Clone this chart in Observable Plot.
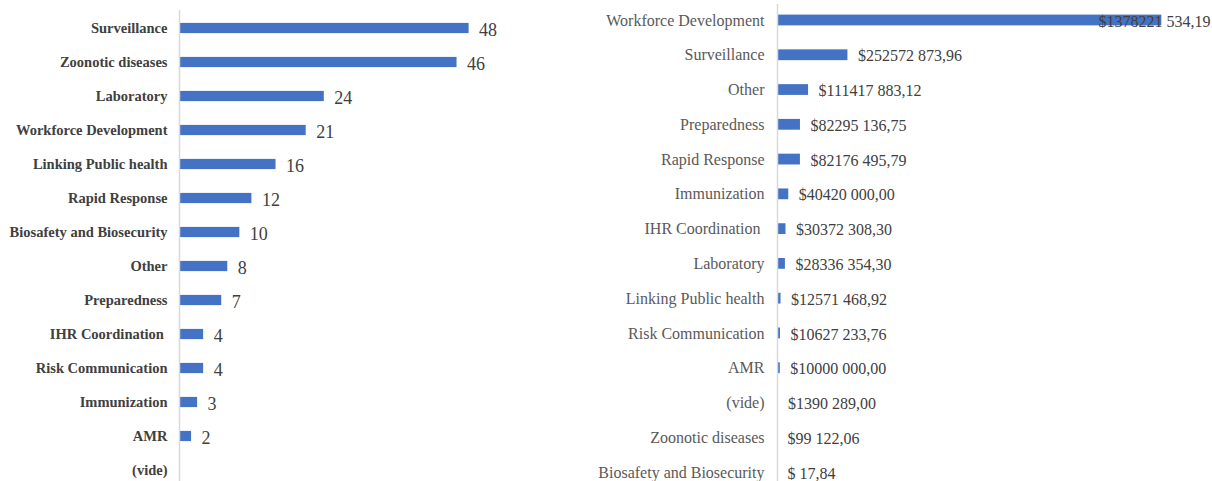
<!DOCTYPE html>
<html>
<head>
<meta charset="utf-8">
<script src="https://cdn.jsdelivr.net/npm/d3@7"></script>
<script src="https://cdn.jsdelivr.net/npm/@observablehq/plot@0.6"></script>
<style>
  html, body { margin: 0; padding: 0; background: #fff; }
  #wrap { display: flex; flex-direction: row; width: 1212px; height: 481px; }
  svg { display: block; }
</style>
</head>
<body>
<div id="wrap"></div>
<script>
// Left panel: number of projects per category
const leftCategories = ["Surveillance", "Zoonotic diseases", "Laboratory", "Workforce Development",
  "Linking Public health", "Rapid Response", "Biosafety and Biosecurity", "Other", "Preparedness",
  "IHR Coordination\u00a0", "Risk Communication", "Immunization", "AMR", "(vide)"];
const leftCounts = [48, 46, 24, 21, 16, 12, 10, 8, 7, 4, 4, 3, 2, null];

// Right panel: funding amount per category
const rightCategories = ["Workforce Development", "Surveillance", "Other", "Preparedness", "Rapid Response",
  "Immunization", "IHR Coordination\u00a0", "Laboratory", "Linking Public health", "Risk Communication",
  "AMR", "(vide)", "Zoonotic diseases", "Biosafety and Biosecurity"];
const rightAmounts = [1378221534.19, 252572873.96, 111417883.12, 82295136.75, 82176495.79,
  40420000.00, 30372308.30, 28336354.30, 12571468.92, 10627233.76,
  10000000.00, 1390289.00, 99122.06, 17.84];

function fmtMoney(v) {
  const cents = Math.round(v * 100);
  const intPart = Math.floor(cents / 100);
  const dec = String(cents % 100).padStart(2, "0");
  const high = Math.floor(intPart / 1000);
  const low = intPart % 1000;
  const lowStr = high > 0 ? String(low).padStart(3, "0") : String(low);
  return "$" + (high > 0 ? high : "") + " " + lowStr + "," + dec;
}

const leftData = leftCategories.map((c, i) => ({cat: c, n: leftCounts[i]}));
const rightData = rightCategories.map((c, i) => ({cat: c, amount: rightAmounts[i], label: fmtMoney(rightAmounts[i])}));

const serif = "'Liberation Serif', 'Times New Roman', serif";
const barColor = "#4472C4";

const left = Plot.plot({
  width: 580,
  height: 481,
  marginLeft: 179,
  marginRight: 39,
  marginTop: 10,
  marginBottom: 0,
  style: {fontFamily: serif, background: "#fff"},
  x: {domain: [0, 60], axis: null},
  y: {domain: leftCategories, range: [11, 487], paddingInner: 0.7, paddingOuter: 0.35, align: 0.5, round: false},
  marks: [
    Plot.barX(leftData.filter(d => d.n != null), {x: "n", y: "cat", fill: barColor}),
    Plot.ruleX([0], {stroke: "#d9d9d9", strokeWidth: 1.5}),
    Plot.axisY({tickSize: 0, tickPadding: 12, fontSize: 14.5, fontWeight: "bold", fill: "#404040", label: null}),
    Plot.text(leftData.filter(d => d.n != null), {x: "n", y: "cat", text: d => String(d.n), dx: 10,
      textAnchor: "start", fontSize: 18, fill: "#404040", dy: 2})
  ]
});

const right = Plot.plot({
  width: 632,
  height: 481,
  marginLeft: 197,
  marginRight: 0,
  marginTop: 4,
  marginBottom: 0,
  style: {fontFamily: serif, background: "#fff"},
  x: {domain: [0, 1560e6], axis: null},
  y: {domain: rightCategories, range: [2.6, 489.4], paddingInner: 0.69, paddingOuter: 0.345, align: 0.5, round: false},
  marks: [
    Plot.barX(rightData, {x: "amount", y: "cat", fill: barColor}),
    Plot.ruleX([0], {stroke: "#d9d9d9", strokeWidth: 1.5}),
    Plot.axisY({tickSize: 0, tickPadding: 13, fontSize: 16, fill: "#595959", label: null}),
    Plot.text(rightData.filter(d => d.amount < 1e9), {x: "amount", y: "cat", text: "label", dx: 10,
      textAnchor: "start", fontSize: 16, fill: "#404040", dy: 1}),
    Plot.text(rightData.filter(d => d.amount >= 1e9), {y: "cat", text: "label", frameAnchor: "right", dx: -2,
      textAnchor: "end", fontSize: 16, fill: "#404040", dy: 1})
  ]
});

document.getElementById("wrap").append(left, right);
</script>
</body>
</html>
